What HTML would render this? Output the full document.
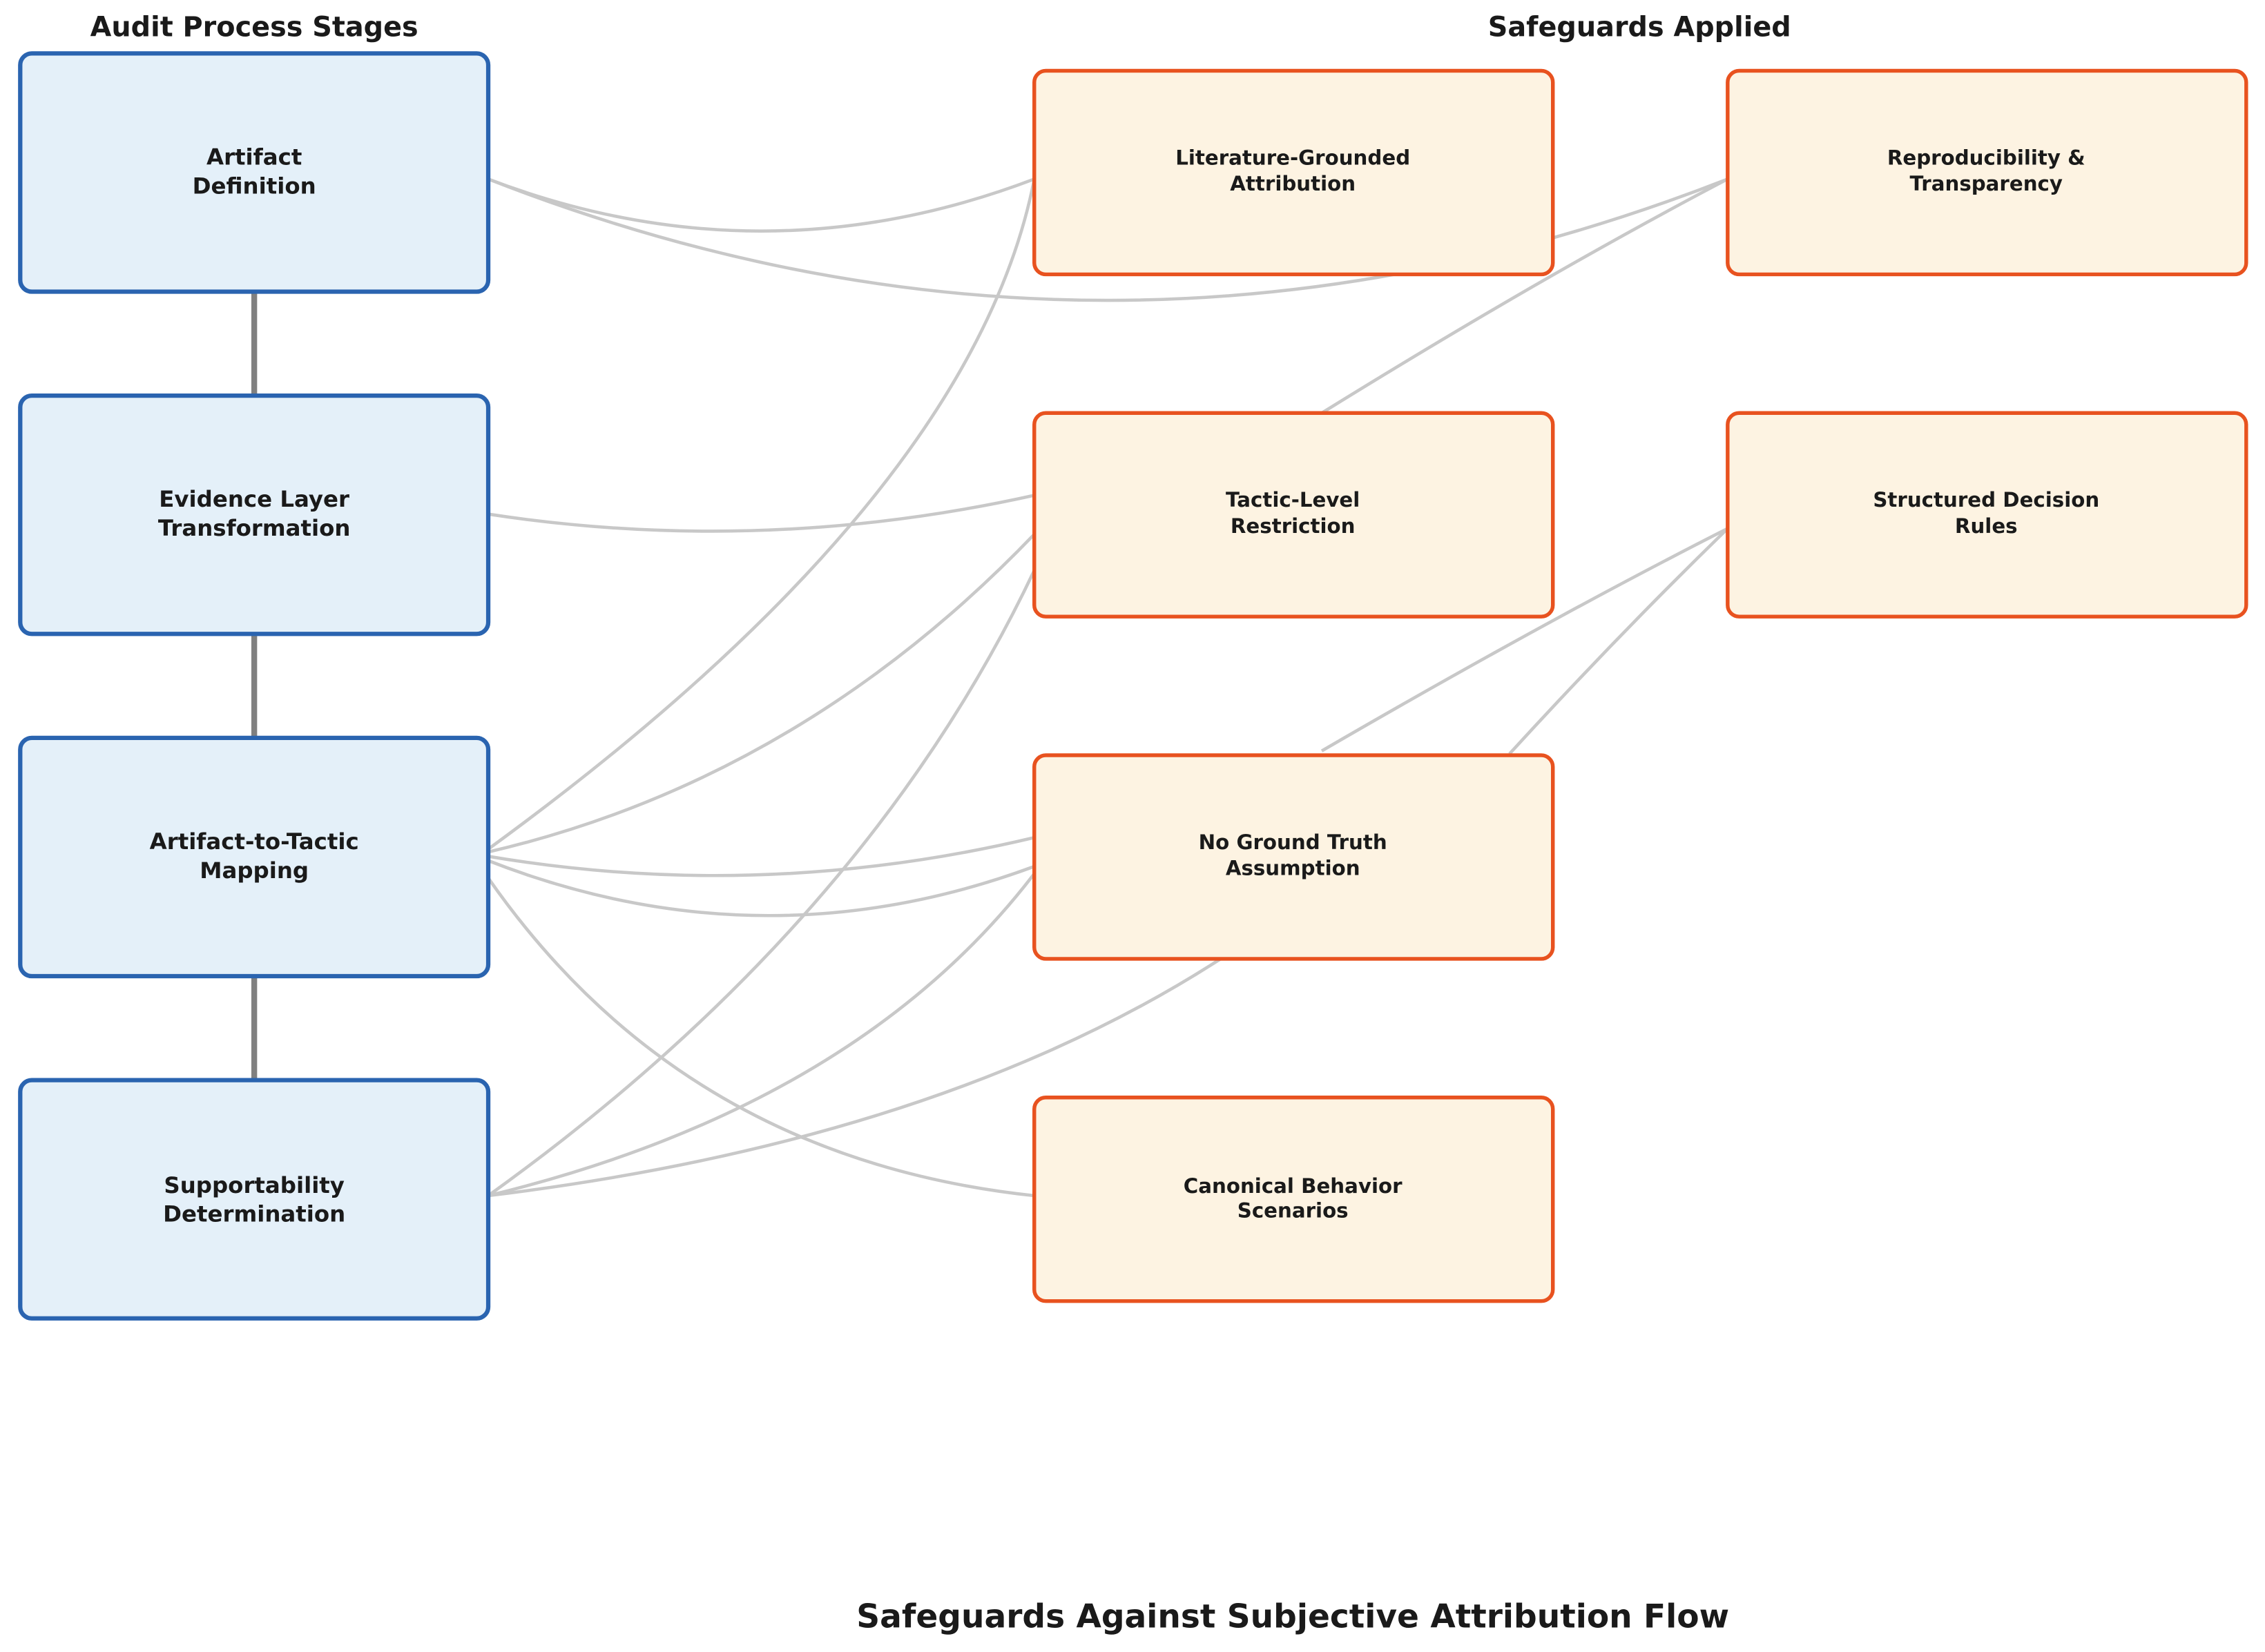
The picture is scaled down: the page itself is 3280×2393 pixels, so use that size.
<!DOCTYPE html>
<html><head><meta charset="utf-8"><style>
html,body{margin:0;padding:0;background:#fff;}
svg{display:block;}
text{font-family:"DejaVu Sans","Liberation Sans",sans-serif;font-weight:bold;fill:#1a1a1a;}
</style></head><body>
<svg width="3280" height="2393" viewBox="0 0 1568 1144" preserveAspectRatio="none" xmlns="http://www.w3.org/2000/svg">
<g fill="none" stroke="#c8c8c8" stroke-width="2.2">
<path d="M338,124 Q527,196 716,124"/>
<path d="M338,124 Q767,292 1196,124"/>
<path d="M338,356 Q527,385 716,343"/>
<path d="M338,588 Q673,344 716,124"/>
<path d="M338,590 Q553,540 716,370"/>
<path d="M915,286 Q1070,190 1196,124"/>
<path d="M338,593 Q527,625 716,580"/>
<path d="M915,520 Q1070,430 1196,366"/>
<path d="M338,596 Q527,670 716,600"/>
<path d="M338,608 Q473,802 716,828"/>
<path d="M338,828 Q600,640 716,395"/>
<path d="M338,828 Q593,766 716,605"/>
<path d="M338,828 Q650,790 845,664"/>
<path d="M1045,522 Q1120,440 1196,366"/>
</g>
<g stroke="#808080" stroke-width="4">
<line x1="176" y1="202" x2="176" y2="274"/>
<line x1="176" y1="439" x2="176" y2="511"/>
<line x1="176" y1="676" x2="176" y2="748"/>
</g>
<g fill="#e4f0f9" stroke="#2a64b0" stroke-width="3">
<rect x="14" y="37" width="324" height="165" rx="8"/>
<rect x="14" y="274" width="324" height="165" rx="8"/>
<rect x="14" y="511" width="324" height="165" rx="8"/>
<rect x="14" y="748" width="324" height="165" rx="8"/>
</g>
<g fill="#fdf3e2" stroke="#e8521f" stroke-width="2.6">
<rect x="716" y="49" width="359" height="141" rx="8"/>
<rect x="1196" y="49" width="359" height="141" rx="8"/>
<rect x="716" y="286" width="359" height="141" rx="8"/>
<rect x="1196" y="286" width="359" height="141" rx="8"/>
<rect x="716" y="523" width="359" height="141" rx="8"/>
<rect x="716" y="760" width="359" height="141" rx="8"/>
</g>
<g text-anchor="middle" font-size="15.5">
<text x="176" y="114">Artifact</text><text x="176" y="134">Definition</text>
<text x="176" y="351">Evidence Layer</text><text x="176" y="371">Transformation</text>
<text x="176" y="588">Artifact-to-Tactic</text><text x="176" y="608">Mapping</text>
<text x="176" y="826">Supportability</text><text x="176" y="846">Determination</text>
</g>
<g text-anchor="middle" font-size="14">
<text x="895" y="114">Literature-Grounded</text><text x="895" y="132">Attribution</text>
<text x="1375" y="114">Reproducibility &amp;</text><text x="1375" y="132">Transparency</text>
<text x="895" y="351">Tactic-Level</text><text x="895" y="369">Restriction</text>
<text x="1375" y="351">Structured Decision</text><text x="1375" y="369">Rules</text>
<text x="895" y="588">No Ground Truth</text><text x="895" y="606">Assumption</text>
<text x="895" y="826">Canonical Behavior</text><text x="895" y="843">Scenarios</text>
</g>
<text x="176" y="25" text-anchor="middle" font-size="19">Audit Process Stages</text>
<text x="1135" y="25" text-anchor="middle" font-size="19">Safeguards Applied</text>
<text x="895" y="1127" text-anchor="middle" font-size="22.5">Safeguards Against Subjective Attribution Flow</text>
</svg>
</body></html>
